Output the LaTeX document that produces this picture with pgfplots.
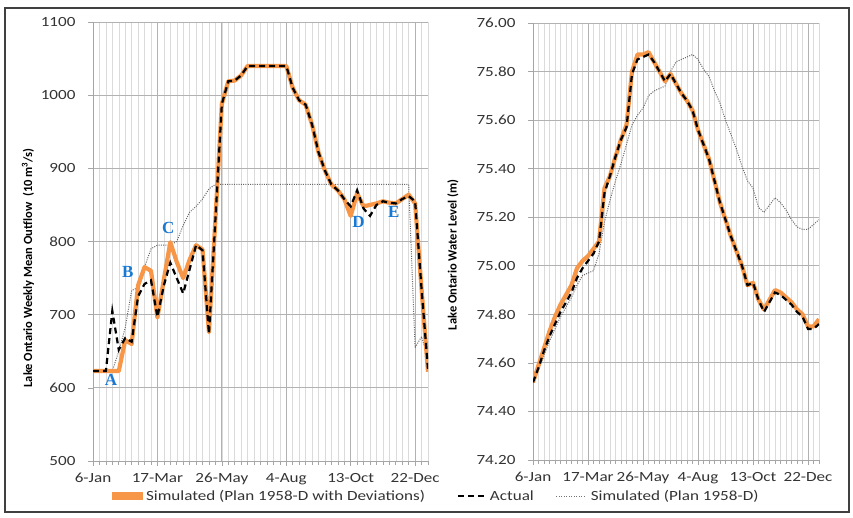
\documentclass[border=0pt]{standalone}
\usepackage{fontspec}
\setmainfont{Carlito}
\newfontfamily\tickfont{Carlito}[FakeStretch=1.22]
\newfontfamily\letterfont{Liberation Serif}
\usepackage{pgfplots}
\usepackage{pgfplotstable}
\pgfplotsset{compat=1.18}
\definecolor{orangeS}{RGB}{247,150,70}
\definecolor{letterblue}{RGB}{25,120,210}

\pgfplotstableread{
w O A S
0 623 623 623
1 623 623 623
2 623 623 623
3 623 705 623
4 623 652 650
5 665 668 682
6 660 663 733
7 740 725 737
8 765 742 765
9 760 747 790
10 696 697 795
11 748 740 795
12 799 771 795
13 772 750 800
14 750 729 822
15 775 762 840
16 795 795 848
17 789 788 858
18 676 674 872
19 830 830 878
20 988 988 878
21 1019 1019 878
22 1020 1020 878
23 1027 1027 878
24 1040 1040 878
25 1040 1040 878
26 1040 1040 878
27 1040 1040 878
28 1040 1040 878
29 1040 1040 878
30 1040 1040 878
31 1010 1010 878
32 993 993 878
33 987 987 878
34 960 960 878
35 922 922 878
36 897 897 878
37 878 878 878
38 870 870 878
39 858 858 878
40 835 848 878
41 866 870 878
42 848 845 878
43 850 835 878
44 852 850 878
45 855 855 878
46 853 853 878
47 852 852 878
48 858 858 878
49 864 862 878
50 852 855 655
51 735 735 670
52 622 625 640
}\leftdata

\pgfplotstableread{
w O A S
0 74.52 74.52 74.52
1 74.59 74.58 74.57
2 74.66 74.65 74.63
3 74.73 74.71 74.69
4 74.79 74.76 74.74
5 74.84 74.81 74.79
6 74.88 74.85 74.83
7 74.92 74.89 74.87
8 74.99 74.95 74.92
9 75.02 74.99 74.96
10 75.04 75.02 74.97
11 75.07 75.05 74.98
12 75.10 75.10 75.05
13 75.32 75.30 75.18
14 75.37 75.37 75.27
15 75.45 75.45 75.35
16 75.52 75.52 75.42
17 75.58 75.57 75.50
18 75.80 75.79 75.58
19 75.87 75.85 75.62
20 75.87 75.86 75.65
21 75.88 75.87 75.70
22 75.84 75.84 75.72
23 75.80 75.80 75.73
24 75.76 75.76 75.74
25 75.79 75.79 75.80
26 75.75 75.75 75.84
27 75.71 75.71 75.85
28 75.68 75.68 75.86
29 75.64 75.64 75.87
30 75.56 75.56 75.85
31 75.50 75.50 75.81
32 75.44 75.44 75.78
33 75.35 75.35 75.72
34 75.26 75.26 75.67
35 75.19 75.19 75.60
36 75.12 75.12 75.54
37 75.06 75.06 75.48
38 75.00 75.00 75.41
39 74.92 74.92 75.35
40 74.93 74.93 75.32
41 74.86 74.86 75.24
42 74.82 74.81 75.22
43 74.86 74.85 75.25
44 74.90 74.89 75.28
45 74.89 74.88 75.26
46 74.87 74.86 75.23
47 74.85 74.84 75.19
48 74.82 74.81 75.16
49 74.80 74.79 75.15
50 74.75 74.74 75.15
51 74.75 74.74 75.17
52 74.78 74.76 75.19
}\rightdata

\pgfplotsset{myax/.style={
  scale only axis, enlargelimits=false, xmin=0, xmax=52,
  xtick={0,10,20,30,40,50},
  xticklabels={6-Jan,17-Mar,26-May,4-Aug,13-Oct,22-Dec},
  minor xtick={0,1,...,52},
  xmajorgrids, xminorgrids, ymajorgrids,
  major grid style={draw=black!30, line width=0.9pt},
  minor grid style={draw=black!14, line width=0.5pt},
  axis x line*=bottom, axis y line*=left,
  axis line style={draw=black!35, line width=0.9pt, -},
  tick align=outside, major tick length=5pt, minor tick length=4pt,
  tick style={draw=black!35, line width=0.6pt},
  /pgf/number format/assume math mode=true,
  tick label style={font=\tickfont\fontsize{14}{14}\selectfont, text=black!80},
  xticklabel style={yshift=-4pt},
  yticklabel style={xshift=-9pt},
  ylabel style={font=\bfseries\fontsize{12.5}{13}\selectfont, text=black, anchor=center},
  orangeline/.style={orangeS, line width=4.2pt, line join=round},
  actualline/.style={black, line width=2.2pt, dash pattern=on 6pt off 4pt},
  dotline/.style={black!60, line width=1pt, dash pattern=on 1pt off 1.3pt},
}}

\begin{document}
\begin{tikzpicture}
\path[use as bounding box] (0pt,0pt) rectangle (853pt,517pt);
\draw[line width=1.5pt, color=black!75] (5pt,5pt) rectangle (849pt,509pt);

\begin{axis}[myax, at={(93pt,56pt)}, anchor=south west,
  width=335pt, height=439pt,
  ymin=500, ymax=1100, ytick={500,600,...,1100},
  /pgf/number format/1000 sep={},
  ylabel={Lake Ontario Weekly Mean Outflow\ \ (10 m\textsuperscript{3}/s)},
  ylabel style={at={(axis description cs:-0.194,0.44)}},
  legend columns=3,
  legend style={draw=none, fill=none, at={(1.024,-0.0797)}, anchor=center,
    font=\tickfont\fontsize{14}{14}\selectfont, text=black!80, column sep=2pt},
  ]
\addplot[dotline, forget plot] table[x=w,y=S]{\leftdata};
\addplot[orangeline, forget plot] table[x=w,y=O]{\leftdata};
\addplot[actualline, forget plot] table[x=w,y=A]{\leftdata};
\node[font=\letterfont\bfseries\fontsize{17}{17}\selectfont, text=letterblue] at (axis cs:2.8,611) {A};
\node[font=\letterfont\bfseries\fontsize{17}{17}\selectfont, text=letterblue] at (axis cs:5.4,759) {B};
\node[font=\letterfont\bfseries\fontsize{17}{17}\selectfont, text=letterblue] at (axis cs:11.7,819) {C};
\node[font=\letterfont\bfseries\fontsize{17}{17}\selectfont, text=letterblue] at (axis cs:41.2,827) {D};
\node[font=\letterfont\bfseries\fontsize{17}{17}\selectfont, text=letterblue] at (axis cs:46.7,840) {E};
\addlegendimage{legend image code/.code={\fill[orangeS] (0pt,-3.5pt) rectangle (30pt,3.5pt);}}
\addlegendentry{Simulated (Plan 1958-D with Deviations)\rule{28pt}{0pt}}
\addlegendimage{legend image code/.code={\draw[black,line width=2pt,dash pattern=on 6pt off 4pt] (0pt,0pt)--(27pt,0pt);}}
\addlegendentry{Actual\rule{18pt}{0pt}}
\addlegendimage{legend image code/.code={\draw[black!55,line width=0.9pt,dash pattern=on 1pt off 1.5pt] (0pt,0pt)--(30pt,0pt);}}
\addlegendentry{Simulated (Plan 1958-D)}
\end{axis}

\begin{axis}[myax, at={(533pt,57pt)}, anchor=south west,
  width=286pt, height=437pt,
  ymin=74.2, ymax=76.0,
  ytick={74.2,74.4,74.6,74.8,75.0,75.2,75.4,75.6,75.8,76.0},
  yticklabel style={/pgf/number format/.cd, fixed, fixed zerofill, precision=2},
  ylabel={Lake Ontario Water Level (m)},
  ylabel style={at={(axis description cs:-0.28,0.47)}},
  ]
\addplot[dotline] table[x=w,y=S]{\rightdata};
\addplot[orangeline] table[x=w,y=O]{\rightdata};
\addplot[actualline] table[x=w,y=A]{\rightdata};
\end{axis}
\end{tikzpicture}
\end{document}
